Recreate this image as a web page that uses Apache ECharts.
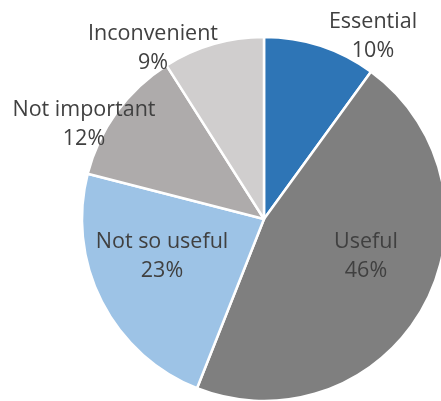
<!DOCTYPE html>
<html>
<head>
<meta charset="utf-8">
<script src="https://cdn.jsdelivr.net/npm/echarts@6/dist/echarts.min.js"></script>
<style>
  html, body { margin: 0; padding: 0; background: #fff; }
  #chart { width: 441px; height: 401px; }
</style>
</head>
<body>
<div id="chart"></div>
<script>
// Survey answers, clockwise from 12 o'clock
const categories = ['Essential', 'Useful', 'Not so useful', 'Not important', 'Inconvenient'];
const shares = [10, 46, 23, 12, 9];
const sliceColors = ['#2E75B6', '#7F7F7F', '#9DC3E6', '#AEABAB', '#D0CECE'];

// Where each two-line label is centred (pixels)
const labelSpots = [[373, 36], [366, 256], [162, 256], [84, 124], [153, 48]];

const chart = echarts.init(document.getElementById('chart'), null, { renderer: 'canvas' });

chart.setOption({
  animation: false,
  series: [{
    type: 'pie',
    center: [264, 219],
    radius: 182,
    startAngle: 90,
    clockwise: true,
    avoidLabelOverlap: false,
    itemStyle: { borderColor: '#ffffff', borderWidth: 2.5 },
    label: {
      show: true,
      position: 'inside',
      formatter: p => p.name + '\n' + p.value + '%',
      fontFamily: 'Open Sans',
      fontSize: 21.5,
      lineHeight: 29,
      color: '#404040',
      align: 'center'
    },
    labelLine: { show: false },
    labelLayout: p => ({
      x: labelSpots[p.dataIndex][0],
      y: labelSpots[p.dataIndex][1],
      align: 'center',
      verticalAlign: 'middle'
    }),
    emphasis: { disabled: true },
    data: categories.map((name, i) => ({
      name: name,
      value: shares[i],
      itemStyle: { color: sliceColors[i] }
    }))
  }]
});
</script>
</body>
</html>
